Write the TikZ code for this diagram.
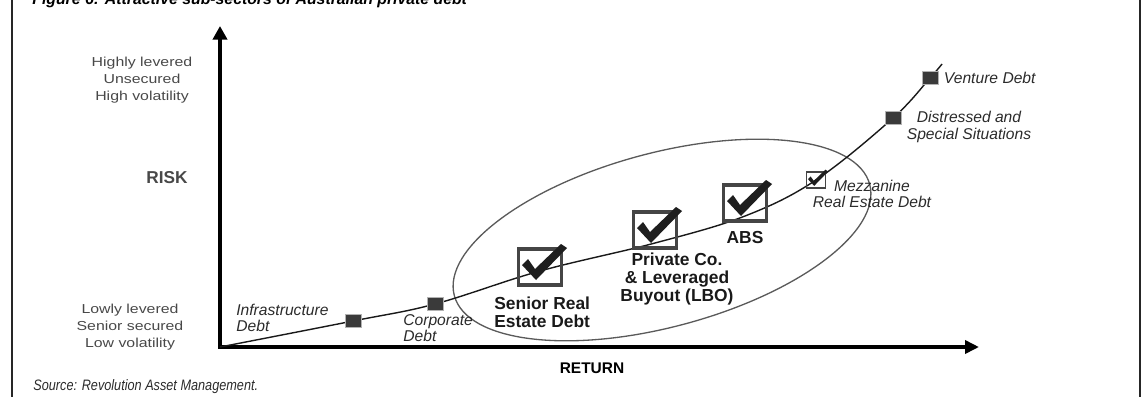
\documentclass[tikz,border=0pt]{standalone}
\usepackage{fontspec}
\setmainfont{Liberation Sans}
\usepackage{graphicx}
\usetikzlibrary{arrows.meta,positioning}

\definecolor{sidegray}{HTML}{484848}
\definecolor{labeldark}{HTML}{2B2B2B}
\definecolor{markfill}{HTML}{3A3A3A}
\definecolor{boxgray}{HTML}{454545}
\definecolor{ringgray}{HTML}{5A5A5A}
\definecolor{tickfill}{HTML}{1E1E1E}

\tikzset{
  frameline/.style={line width=1.1pt, draw=black!85},
  axis/.style={line width=2.3pt, {Triangle[length=0.27cm,width=0.28cm]}-{Triangle[length=0.28cm,width=0.26cm]}},
  curve/.style={line width=0.8pt, draw=black!90},
  ring/.style={line width=0.75pt, draw=ringgray},
  sidetext/.style={text=sidegray, font=\fontsize{7.4}{9.6}\selectfont, inner sep=0pt},
  axistext/.style={text=sidegray, font=\fontsize{9.8}{11}\selectfont\bfseries, inner sep=0pt},
  sector/.style={text=labeldark, font=\fontsize{8.9}{9.5}\selectfont\itshape, inner sep=0pt},
  pick/.style={text=black!90, font=\fontsize{9.9}{10.4}\selectfont\bfseries, inner sep=0pt},
  marker/.style={draw=gray!60, fill=markfill, line width=0.4pt, minimum width=0.32cm, minimum height=0.26cm, inner sep=0pt},
  tickbox/.style={draw=boxgray, line width=1.8pt, minimum width=0.86cm, minimum height=0.72cm, inner sep=0pt},
  smallbox/.style={tickbox, line width=0.9pt, minimum width=0.38cm, minimum height=0.32cm},
  checkmark/.pic={
    \fill[tickfill] (-18,-2) -- (-12,-8) -- (-5,2) -- (21,-23) -- (27,-19) -- (-4,13) -- cycle;
  }
}

\begin{document}
\begin{tikzpicture}[x=0.02cm, y=-0.02cm]
\useasboundingbox (0,0) rectangle (1141,396);

% frame
\draw[frameline] (12,-10) -- (12,406);
\draw[frameline] (1140,-10) -- (1140,406);

% title, cut by the top edge
\node[anchor=base west, inner sep=0pt, font=\fontsize{9}{10}\selectfont\bfseries\itshape] (title) at (32,4) {Figure 6: Attractive sub-sectors of Australian private debt};

% Axes
\coordinate (o) at (220,347);
\coordinate (ytip) at (220,26);
\coordinate (xtip) at (979,347);
\draw[axis] (ytip) -- (o) -- (xtip);

\node[sidetext] (high) at (142,80) {\scalebox{1.22}[1]{\begin{tabular}{@{}c@{}}Highly levered\\Unsecured\\High volatility\end{tabular}}};
\node[axistext] (risk) at (167,178) {RISK};
\node[sidetext] (low) at (130,327) {\scalebox{1.22}[1]{\begin{tabular}{@{}c@{}}Lowly levered\\Senior secured\\Low volatility\end{tabular}}};
\node[axistext, text=black, font=\fontsize{8.8}{10}\selectfont\bfseries] (ret) at (592,368) {RETURN};

% points on the curve
\coordinate (p1) at (353,321);
\coordinate (p2) at (435,304);
\coordinate (c1) at (540,271);
\coordinate (c2) at (655,243);
\coordinate (c3) at (745,216);
\coordinate (p3) at (816,180);
\coordinate (p4) at (893,118);
\coordinate (p5) at (930,78);
\coordinate (cend) at (942,64);

% attractive zone
\draw[ring, rotate around={15:(662,240)}] (662,240) ellipse [x radius=215, y radius=87];

% Curve
\draw[curve] plot[smooth, tension=0.6] coordinates {(o) (p1) (p2) (c1) (c2) (c3) (p3) (p4) (p5) (cend)};

% plain sectors
\node[marker] (infra) at (p1) {};
\node[marker] (corp) at (p2) {};
\node[marker] (dist) at (p4) {};
\node[marker] (vent) at (p5) {};

% ticked sectors
\node[tickbox] (sre) at (540,267) {};
\pic at (sre) {checkmark};
\node[tickbox] (pco) at (655,230) {};
\pic at (pco) {checkmark};
\node[tickbox] (abs) at (745,203) {};
\pic at (abs) {checkmark};
\node[smallbox] (mezz) at (p3) {};
\pic[scale=0.45] at (mezz) {checkmark};

% labels
\node[sector, anchor=west, align=left] (infratext) at (236,318) {Infrastructure\\Debt};
\node[sector, anchor=west, align=left] (corptext) at (403,328) {Corporate\\Debt};
\node[pick, anchor=west, align=left] (sretext) at (494,312) {Senior Real\\Estate Debt};
\node[pick, align=center] (pcotext) at (677,279) {Private Co.\\\& Leveraged\\Buyout (LBO)};
\node[pick] (abstext) at (745,238) {ABS};
\node[sector, align=center] (mezztext) at (872,194) {Mezzanine\\Real Estate Debt};
\node[sector, align=center] (disttext) at (969,127) {Distressed and\\Special Situations};
\node[sector, right=3pt of vent] (venttext) {Venture Debt};

% source line
\node[anchor=west, inner sep=0pt, text=labeldark, font=\fontsize{8.6}{9}\selectfont\itshape] (src) at (33,387) {\scalebox{0.84}[1]{Source: Revolution Asset Management.}};
\end{tikzpicture}
\end{document}
